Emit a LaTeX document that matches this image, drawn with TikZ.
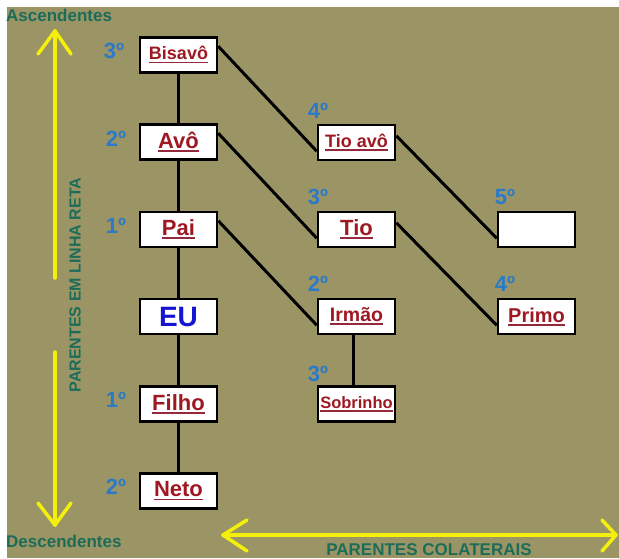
\documentclass[tikz,border=0pt]{standalone}
\usepackage{fontspec}
\setmainfont{Liberation Sans}
\definecolor{bgolive}{RGB}{155,149,101}
\definecolor{nred}{RGB}{158,24,34}
\definecolor{ulred}{RGB}{150,40,60}
\definecolor{dblue}{RGB}{42,122,200}
\definecolor{eublue}{RGB}{20,20,210}
\definecolor{tgreen}{RGB}{29,108,90}
\definecolor{yarr}{RGB}{245,240,10}
\newcommand\myul[1]{\setbox0\hbox{#1}\leavevmode\rlap{\raisebox{-3.5pt}{\color{ulred}\rule{\wd0}{1.8pt}}}\box0}
\begin{document}
\begin{tikzpicture}[x=1pt,y=-1pt,
  box/.style={draw=black, line width=2.5pt, fill=white, minimum width=77pt, minimum height=35pt, inner sep=0pt, text=nred, font=\bfseries\fontsize{22}{24}\selectfont},
  deg/.style={text=dblue, inner sep=0pt, font=\bfseries\fontsize{22}{24}\selectfont},
  gtext/.style={text=tgreen, inner sep=0pt, font=\bfseries\fontsize{17}{19}\selectfont},
  conn/.style={draw=black, line width=3pt},
  yarrow/.style={draw=yarr, line width=3.5pt, line cap=round, line join=round}]
\fill[white] (0,0) rectangle (619,558);
\fill[bgolive] (7,7) rectangle (619,558);
\useasboundingbox (0,0) rectangle (619,558);

% yellow arrows
\draw[yarrow] (55,278) -- (55,31);
\draw[yarrow] (38,54) -- (55,31) -- (71,54);
\draw[yarrow] (55,352) -- (55,525);
\draw[yarrow] (38,503) -- (55,525) -- (71,503);
\draw[yarrow] (223,535) -- (616,535);
\draw[yarrow] (247,520) -- (223,535) -- (247,551);
\draw[yarrow] (602,520) -- (616,535) -- (602,551);

% texts
\node[gtext, anchor=west] (asc) at (6,15) {Ascendentes};
\node[gtext, anchor=west] (desc) at (6,541) {Descendentes};
\node[gtext] (col) at (429,549.5) {PARENTES COLATERAIS};
\node[gtext, rotate=90, font=\bfseries\fontsize{16}{18}\selectfont] (reta) at (75,285) {PARENTES EM LINHA RETA};

% main column
\node[box, font=\bfseries\fontsize{18}{20}\selectfont] (bisavo) at (178.5,55) {\myul{Bisavô}};
\node[box] (avo) at (178.5,142) {\myul{Avô}};
\node[box] (pai) at (178.5,229.5) {\myul{Pai}};
\node[box, text=eublue, font=\bfseries\fontsize{28}{30}\selectfont] (eu) at (178.5,316.5) {EU};
\node[box] (filho) at (178.5,404) {\myul{Filho}};
\node[box] (neto) at (178.5,491) {\myul{Neto}};

% second column
\node[box, font=\bfseries\fontsize{18}{20}\selectfont] (tioavo) at (356.5,142.5) {\myul{Tio avô}};
\node[box] (tio) at (356.5,229.5) {\myul{Tio}};
\node[box, font=\bfseries\fontsize{19.5}{21}\selectfont] (irmao) at (356.5,316.5) {\myul{Irmão}};
\node[box, font=\bfseries\fontsize{16.5}{18}\selectfont] (sobrinho) at (356.5,404) {\myul{Sobrinho}};

% third column
\node[box] (quinto) at (536.5,229.5) {};
\node[box, font=\bfseries\fontsize{20}{22}\selectfont] (primo) at (536.5,316.5) {\myul{Primo}};

% degrees
\node[deg] (g1) at (114,51) {3º};
\node[deg] (g2) at (116,139) {2º};
\node[deg] (g3) at (116,226) {1º};
\node[deg] (g4) at (116,400) {1º};
\node[deg] (g5) at (116,487) {2º};
\node[deg] (g6) at (318,111) {4º};
\node[deg] (g7) at (318,197) {3º};
\node[deg] (g8) at (318,284) {2º};
\node[deg] (g9) at (318,374) {3º};
\node[deg] (g10) at (505,197) {5º};
\node[deg] (g11) at (505,284) {4º};

% connectors
\draw[conn] (bisavo) -- (avo);
\draw[conn] (avo) -- (pai);
\draw[conn] (pai) -- (eu);
\draw[conn] (eu) -- (filho);
\draw[conn] (filho) -- (neto);
\draw[conn] ([xshift=-3pt]irmao.south) -- ([xshift=-3pt]sobrinho.north);
\draw[conn] ([yshift=-10pt]bisavo.north east) -- ([yshift=10pt]tioavo.south west);
\draw[conn] ([yshift=-10pt]avo.north east) -- ([yshift=10pt]tio.south west);
\draw[conn] ([yshift=-10pt]pai.north east) -- ([yshift=10pt]irmao.south west);
\draw[conn] ([yshift=-12pt]tioavo.north east) -- ([yshift=10pt]quinto.south west);
\draw[conn] ([yshift=-12pt]tio.north east) -- ([yshift=10pt]primo.south west);
\end{tikzpicture}
\end{document}
